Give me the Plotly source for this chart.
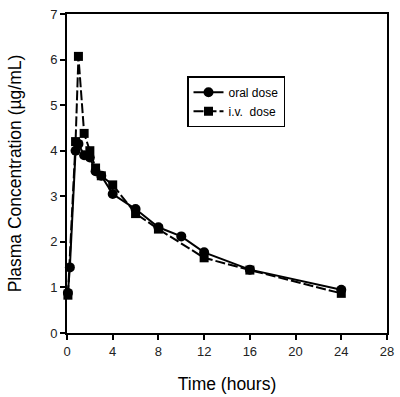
import plotly.graph_objects as go

# Oral dose (circles, solid line)
oral_t = [0.08, 0.25, 0.75, 1.0, 1.5, 2.0, 2.5, 3.0, 4.0, 6.0, 8.0, 10.0, 12.0, 16.0, 24.0]
oral_c = [0.88, 1.44, 4.0, 4.15, 3.9, 3.85, 3.55, 3.45, 3.05, 2.72, 2.32, 2.12, 1.77, 1.39, 0.95]

# i.v. dose (squares, dashed line)
iv_t = [0.08, 0.75, 1.0, 1.5, 2.0, 2.5, 3.0, 4.0, 6.0, 8.0, 12.0, 16.0, 24.0]
iv_c = [0.83, 4.2, 6.07, 4.38, 4.0, 3.62, 3.45, 3.25, 2.62, 2.28, 1.65, 1.38, 0.87]

x_ticks = [0, 4, 8, 12, 16, 20, 24, 28]
y_ticks = [0, 1, 2, 3, 4, 5, 6, 7]

fig = go.Figure()
fig.add_trace(go.Scatter(
    x=oral_t, y=oral_c, name="oral dose", mode="lines+markers",
    line=dict(color="black", width=2),
    marker=dict(symbol="circle", size=10, color="black"),
    cliponaxis=False,
))
fig.add_trace(go.Scatter(
    x=iv_t, y=iv_c, name="i.v.  dose", mode="lines+markers",
    line=dict(color="black", width=2, dash="10px,3px"),
    marker=dict(symbol="square", size=9, color="black"),
    cliponaxis=False,
))

axis_common = dict(
    showgrid=False, zeroline=False, showline=True, linecolor="black", linewidth=2,
    mirror=True, ticks="outside", ticklen=5, tickwidth=2, tickcolor="black",
    automargin=False,
    tickfont=dict(family="Liberation Sans, Arial, sans-serif", size=13, color="#222"),
)

fig.update_layout(
    width=400, height=397,
    margin=dict(l=67, r=13, t=14, b=64),
    paper_bgcolor="white", plot_bgcolor="white",
    font=dict(family="Liberation Sans, Arial, sans-serif", color="black"),
    xaxis=dict(range=[0, 28], tickvals=x_ticks,
               title=dict(text="Time (hours)", font=dict(size=17.5), standoff=20),
               **axis_common),
    yaxis=dict(range=[0, 7], tickvals=y_ticks,
               title=dict(text="Plasma Concentration (µg/mL)", font=dict(size=17.5), standoff=24),
               **axis_common),
    legend=dict(x=0.375, y=0.805, xanchor="left", yanchor="top",
                bordercolor="black", borderwidth=1.5, bgcolor="white",
                font=dict(size=12), tracegroupgap=0, itemwidth=30),
    showlegend=True,
)

fig.write_html("out.html", config={"displayModeBar": False},
               post_script="document.body.style.margin='0';")
